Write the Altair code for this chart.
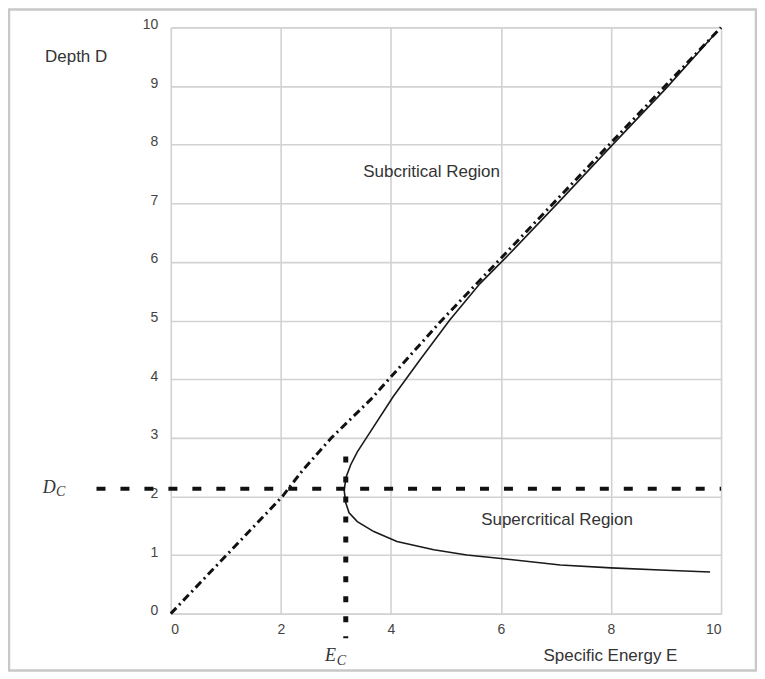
import altair as alt
import pandas as pd

# ---- data ----
# specific-energy curve (E, D), traced from supercritical tail to subcritical branch
curve_E = [9.80, 9.00, 8.00, 7.08, 6.00, 5.38, 4.78, 4.11, 3.69, 3.39, 3.24, 3.18, 3.15,
           3.19, 3.27, 3.39, 3.57, 4.04, 4.53, 5.07, 5.62, 6.22, 7.08, 8.00, 9.00, 9.90]
curve_D = [0.71, 0.74, 0.78, 0.83, 0.94, 1.00, 1.09, 1.23, 1.40, 1.57, 1.72, 1.89, 2.11,
           2.34, 2.54, 2.76, 3.02, 3.70, 4.33, 5.01, 5.63, 6.20, 7.05, 7.97, 8.96, 9.90]

# E = D reference line (dash-dot), slightly uneven as drawn
diag_E = [0.0, 2.03, 2.40, 2.92, 3.63, 4.90, 10.0]
diag_D = [0.0, 2.00, 2.45, 3.00, 3.65, 4.98, 10.0]

# critical depth / critical energy
D_C = 2.13
E_C = 3.18
dc_line_E = [-1.35, 10.0]
ec_line_D = [2.68, -0.42]

x_ticks = [0, 2, 4, 6, 8, 10]
y_ticks = list(range(0, 11))

labels_text = ["Depth D", "Subcritical Region", "Supercritical Region", "Specific Energy E"]
labels_E = [-1.72, 4.74, 7.02, 7.99]
labels_D = [9.49, 7.53, 1.60, -0.73]

sym_main = ["D", "E"]
sym_main_E = [-2.21, 2.90]
sym_main_D = [2.15, -0.73]
sym_sub = ["C", "C"]
sym_sub_E = [-2.00, 3.10]
sym_sub_D = [2.08, -0.80]

# ---- tables ----
curve_df = pd.DataFrame({"E": curve_E, "D": curve_D, "seq": range(len(curve_E))})
diag_df = pd.DataFrame({"E": diag_E, "D": diag_D, "seq": range(len(diag_E))})
dc_df = pd.DataFrame({"E": dc_line_E, "D": [D_C, D_C]})
ec_df = pd.DataFrame({"E": [E_C, E_C], "D": ec_line_D})
lab_df = pd.DataFrame({"E": labels_E, "D": labels_D, "t": labels_text})
symm_df = pd.DataFrame({"E": sym_main_E, "D": sym_main_D, "t": sym_main})
syms_df = pd.DataFrame({"E": sym_sub_E, "D": sym_sub_D, "t": sym_sub})

xs = alt.Scale(domain=[0, 10], nice=False, zero=False)
ys = alt.Scale(domain=[0, 10], nice=False, zero=False)

axis_style = dict(labelFont="Liberation Sans", labelFontSize=14, labelColor="#444444",
                  gridColor="#d2d2d2", gridWidth=1.6, tickSize=0, domain=False,
                  format="d", title=None, grid=True)

X = alt.X("E:Q", scale=xs, axis=alt.Axis(values=x_ticks, labelPadding=9, **axis_style))
Y = alt.Y("D:Q", scale=ys, axis=alt.Axis(values=y_ticks, labelPadding=13,
                                          labelOffset=-3, **axis_style))

frame = alt.Chart(pd.DataFrame({"k": [0]})).mark_rect(
    fill=None, stroke="#c8c8c8", strokeWidth=2.5
).encode(x=alt.value(-162), x2=alt.value(586), y=alt.value(-18), y2=alt.value(644))

base_curve = alt.Chart(curve_df).mark_line(color="#1a1a1a", strokeWidth=1.6).encode(
    x=X, y=Y, order="seq:Q")

diag = alt.Chart(diag_df).mark_line(color="#111111", strokeWidth=3,
                                    strokeDash=[8, 4, 2, 4]).encode(
    x="E:Q", y="D:Q", order="seq:Q")

dc = alt.Chart(dc_df).mark_line(color="#111111", strokeWidth=4,
                                strokeDash=[9, 15]).encode(x="E:Q", y="D:Q")
ec = alt.Chart(ec_df).mark_line(color="#111111", strokeWidth=5,
                                strokeDash=[6, 14]).encode(x="E:Q", y="D:Q")

labels = alt.Chart(lab_df).mark_text(font="Liberation Sans", fontSize=17, color="#333333",
                                     align="center", baseline="middle").encode(
    x="E:Q", y="D:Q", text="t:N")

sym_m = alt.Chart(symm_df).mark_text(font="Liberation Serif", fontStyle="italic",
                                     fontSize=18, color="#333333",
                                     align="center", baseline="middle").encode(
    x="E:Q", y="D:Q", text="t:N")
sym_s = alt.Chart(syms_df).mark_text(font="Liberation Serif", fontStyle="italic",
                                     fontSize=14, color="#333333",
                                     align="center", baseline="middle").encode(
    x="E:Q", y="D:Q", text="t:N")

chart = alt.layer(frame, base_curve, diag, dc, ec, labels, sym_m, sym_s).properties(
    width=551, height=587,
    autosize=alt.AutoSizeParams(type="none"),
    padding={"left": 163, "top": 19, "right": 36, "bottom": 58},
).configure_view(stroke=None).configure(background="white")

chart.save("out.html", embed_options={"renderer": "svg", "actions": False})
